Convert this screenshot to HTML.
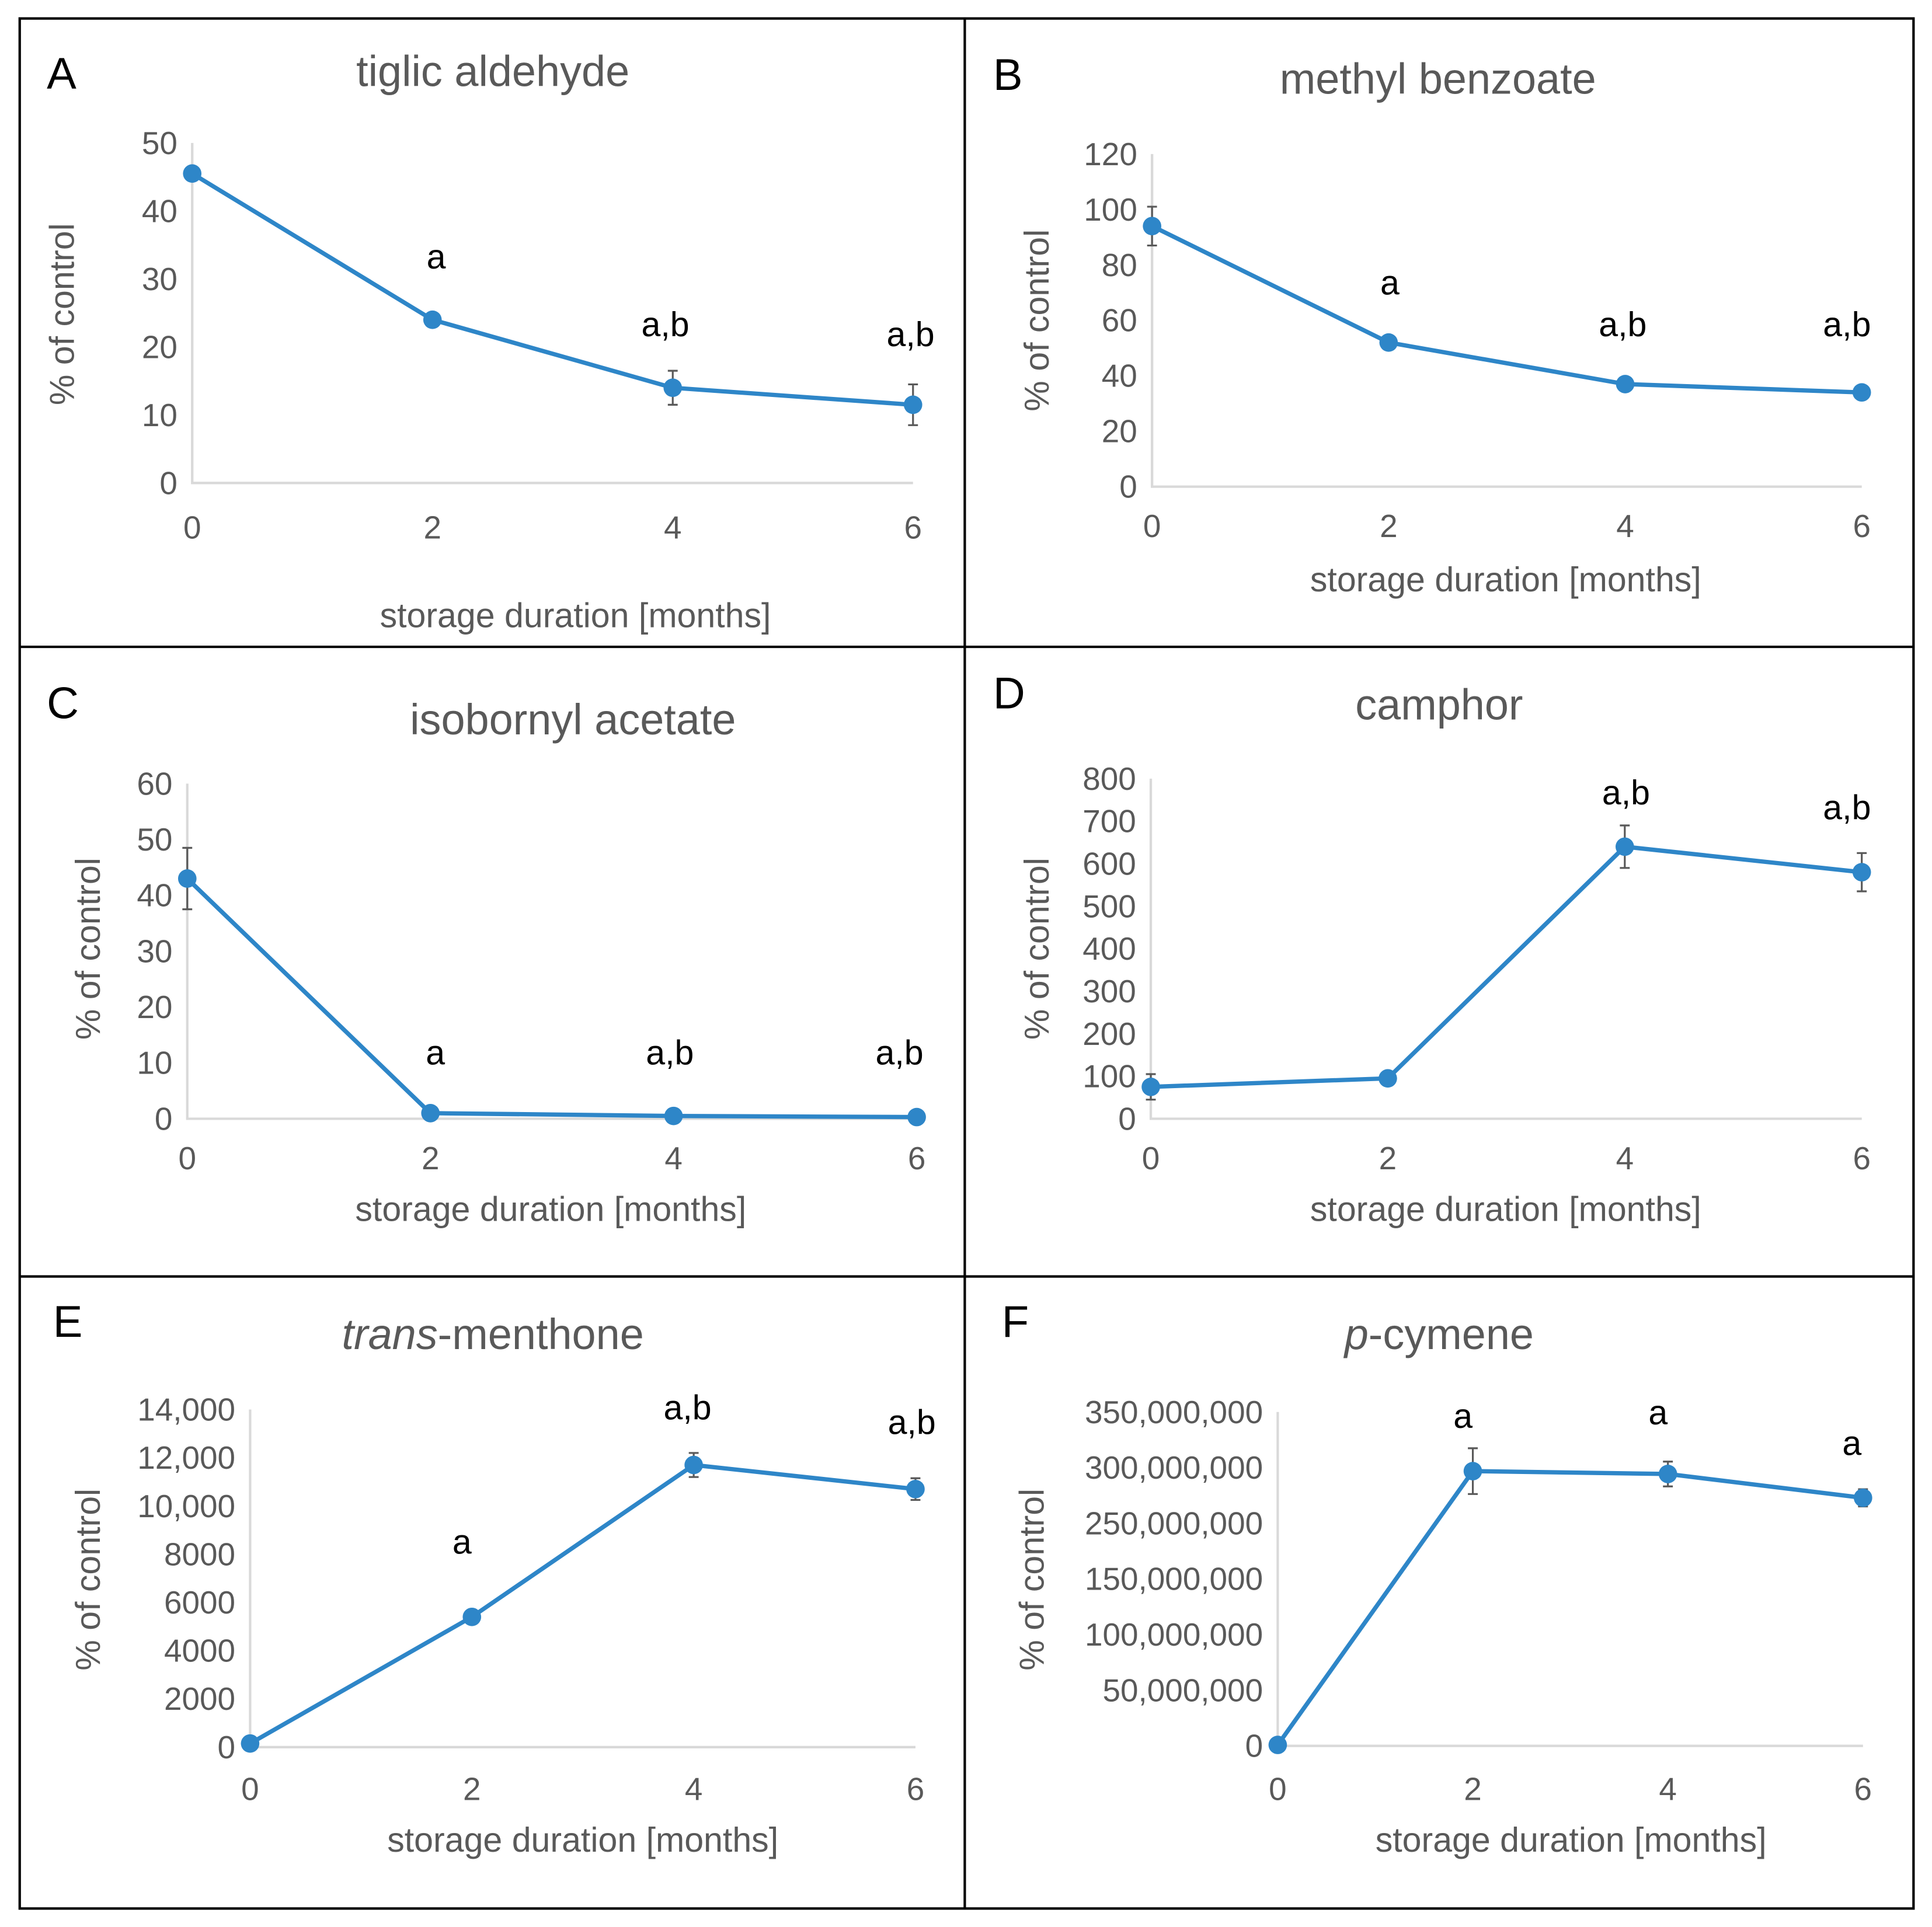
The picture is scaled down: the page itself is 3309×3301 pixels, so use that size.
<!DOCTYPE html>
<html><head><meta charset="utf-8"><style>
html,body{margin:0;padding:0;background:#fff}
svg{display:block}
text{font-family:"Liberation Sans",sans-serif}
</style></head><body>
<svg id="fig" width="3309" height="3301" viewBox="0 0 1568 1564" preserveAspectRatio="none" xmlns="http://www.w3.org/2000/svg">
<rect x="0" y="0" width="1568" height="1564" fill="#fff"/>
<g fill="none" stroke="#000" stroke-width="2">
<rect x="16" y="15" width="1537" height="1534"/>
<line x1="783" y1="15" x2="783" y2="1549"/>
<line x1="16" y1="525" x2="1553" y2="525"/>
<line x1="16" y1="1036" x2="1553" y2="1036"/>
</g>
<g id="charts"></g>
</svg>
<script>
const months = [0, 2, 4, 6];
const valuesA = [45.5, 24, 14, 11.5];
const errA = [0.5, 0.5, 2.5, 3];
const ticksA = [0, 10, 20, 30, 40, 50];
const lettersA = ["", "a", "a,b", "a,b"];
const valuesB = [94, 52, 37, 34];
const errB = [7, 1, 2, 1];
const ticksB = [0, 20, 40, 60, 80, 100, 120];
const lettersB = ["", "a", "a,b", "a,b"];
const valuesC = [43, 1, 0.5, 0.3];
const errC = [5.5, 0.3, 0.2, 0.2];
const ticksC = [0, 10, 20, 30, 40, 50, 60];
const lettersC = ["", "a", "a,b", "a,b"];
const valuesD = [75, 95, 640, 580];
const errD = [30, 15, 50, 45];
const ticksD = [0, 100, 200, 300, 400, 500, 600, 700, 800];
const lettersD = ["", "", "a,b", "a,b"];
const valuesE = [150, 5400, 11700, 10700];
const errE = [50, 150, 500, 450];
const ticksE = [0, 2000, 4000, 6000, 8000, 10000, 12000, 14000];
const tickLabelsE = ["0", "2000", "4000", "6000", "8000", "10,000", "12,000", "14,000"];
const lettersE = ["", "a", "a,b", "a,b"];
const valuesF = [1000000, 288000000, 285000000, 260000000];
const errF = [500000, 24000000, 13000000, 9000000];
const ticksF = [0, 50000000, 100000000, 150000000, 200000000, 250000000, 300000000, 350000000];
const tickLabelsF = ["0", "50,000,000", "100,000,000", "150,000,000", "250,000,000", "300,000,000", "350,000,000"];
const lettersF = ["", "a", "a", "a"];

const NS = "http://www.w3.org/2000/svg";
const root = document.getElementById("charts");
function mk(tag, attrs, parent) {
  const e = document.createElementNS(NS, tag);
  for (const k in attrs) e.setAttribute(k, attrs[k]);
  parent.appendChild(e);
  return e;
}
function panel(cfg) {
  const g = mk("g", {}, root);
  
  
  const xs = v => cfg.x0 + (v - 0) / 6 * (cfg.x1 - cfg.x0);
  const ys = v => cfg.yb - v / cfg.ymax * (cfg.yb - cfg.yt);
  const pl = mk("text", {x: cfg.lx, y: cfg.ly, "font-size": 36, fill: "#000"}, g);
  pl.textContent = cfg.id.toUpperCase();
  
  
  const t = mk("text", {x: cfg.tx, y: cfg.ty, "font-size": 35, fill: "#595959", "text-anchor": "middle"}, g);
  if (cfg.italic) {
    const a = mk("tspan", {"font-style": "italic"}, t); a.textContent = cfg.italic;
    const b = mk("tspan", {}, t); b.textContent = cfg.title;
  } else t.textContent = cfg.title;
  
  
  const ax = mk("path", {d: `M${cfg.x0},${cfg.yt} V${cfg.yb} H${cfg.x1}`, fill: "none", stroke: "#d9d9d9", "stroke-width": 2}, g);
  
  
  const n = cfg.tickLabels ? cfg.tickLabels.length : cfg.ticks.length;
  for (let i = 0; i < n; i++) {
    const tl = mk("text", {x: cfg.x0 - 12, y: cfg.yb - i / (n - 1) * (cfg.yb - cfg.yt) + 9, "font-size": 26, fill: "#595959", "text-anchor": "end"}, g);
    tl.textContent = cfg.tickLabels ? cfg.tickLabels[i] : String(cfg.ticks[i]);
    
    
  }
  months.forEach(m => {
    const xl = mk("text", {x: xs(m), y: cfg.xty, "font-size": 26, fill: "#595959", "text-anchor": "middle"}, g);
    xl.textContent = String(m);
    
    
  });
  const yt = mk("text", {x: 0, y: 0, "font-size": 28, fill: "#595959", "text-anchor": "middle", transform: `translate(${cfg.ytx},${cfg.yty}) rotate(-90)`}, g);
  yt.textContent = "% of control";
  
  
  const xt = mk("text", {x: cfg.xtx, y: cfg.xtyy, "font-size": 28, fill: "#595959", "text-anchor": "middle"}, g);
  xt.textContent = "storage duration [months]";
  
  
  const pts = months.map((m, i) => xs(m) + "," + ys(cfg.vals[i])).join(" ");
  const ln = mk("polyline", {points: pts, fill: "none", stroke: "#2e86c8", "stroke-width": 3.5}, g);
  
  
  months.forEach((m, i) => {
    const x = xs(m), y1 = ys(cfg.vals[i] + cfg.errs[i]), y2 = ys(cfg.vals[i] - cfg.errs[i]);
    const eb = mk("path", {d: `M${x},${y1} V${y2} M${x-4},${y1} H${x+4} M${x-4},${y2} H${x+4}`, stroke: "#595959", "stroke-width": 1.5, fill: "none"}, g);
    
    
    const c = mk("circle", {cx: x, cy: ys(cfg.vals[i]), r: 7.5, fill: "#2e86c8"}, g);
    
    
    if (cfg.letters[i]) {
      const lt = mk("text", {x: x + cfg.letOff[i][0], y: cfg.letOff[i][1], "font-size": 28, fill: "#000", "text-anchor": "middle"}, g);
      lt.textContent = cfg.letters[i];
      
      
    }
  });
}
panel({id:"a", lx:38, ly:72, title:"tiglic aldehyde", tx:400, ty:70, x0:156, x1:741, yt:116, yb:392, ymax:50, ticks:ticksA, vals:valuesA, errs:errA, letters:lettersA,
  letOff:[[0,0],[3,218],[-6,273],[-2,281]], xty:437, ytx:60, yty:255, xtx:467, xtyy:509});
panel({id:"b", lx:806, ly:73, title:"methyl benzoate", tx:1167, ty:76, x0:935, x1:1511, yt:125, yb:395, ymax:120, ticks:ticksB, vals:valuesB, errs:errB, letters:lettersB,
  letOff:[[0,0],[1,239],[-2,273],[-12,273]], xty:436, ytx:851, yty:260, xtx:1222, xtyy:480});
panel({id:"c", lx:38, ly:583, title:"isobornyl acetate", tx:465, ty:596, x0:152, x1:744, yt:636, yb:908, ymax:60, ticks:ticksC, vals:valuesC, errs:errC, letters:lettersC,
  letOff:[[0,0],[4,864],[-3,864],[-14,864]], xty:949, ytx:81, yty:770, xtx:447, xtyy:991});
panel({id:"d", lx:806, ly:575, title:"camphor", tx:1168, ty:584, x0:934, x1:1511, yt:632, yb:908, ymax:800, ticks:ticksD, vals:valuesD, errs:errD, letters:lettersD,
  letOff:[[0,0],[0,0],[1,653],[-12,665]], xty:949, ytx:851, yty:770, xtx:1222, xtyy:991});
panel({id:"e", lx:43, ly:1085, title:"-menthone", italic:"trans", tx:400, ty:1095, x0:203, x1:743, yt:1144, yb:1418, ymax:14000, ticks:ticksE, tickLabels:tickLabelsE, vals:valuesE, errs:errE, letters:lettersE,
  letOff:[[0,0],[-8,1261],[-5,1152],[-3,1164]], xty:1461, ytx:81, yty:1282, xtx:473, xtyy:1503});
panel({id:"f", lx:813, ly:1085, title:"-cymene", italic:"p", tx:1168, ty:1095, x0:1037, x1:1512, yt:1146, yb:1417, ymax:350000000, ticks:ticksF, tickLabels:tickLabelsF, vals:valuesF, errs:errF, letters:lettersF,
  letOff:[[0,0],[-8,1159],[-8,1156],[-9,1181]], xty:1461, ytx:847, yty:1282, xtx:1275, xtyy:1503});
</script>
</body></html>
